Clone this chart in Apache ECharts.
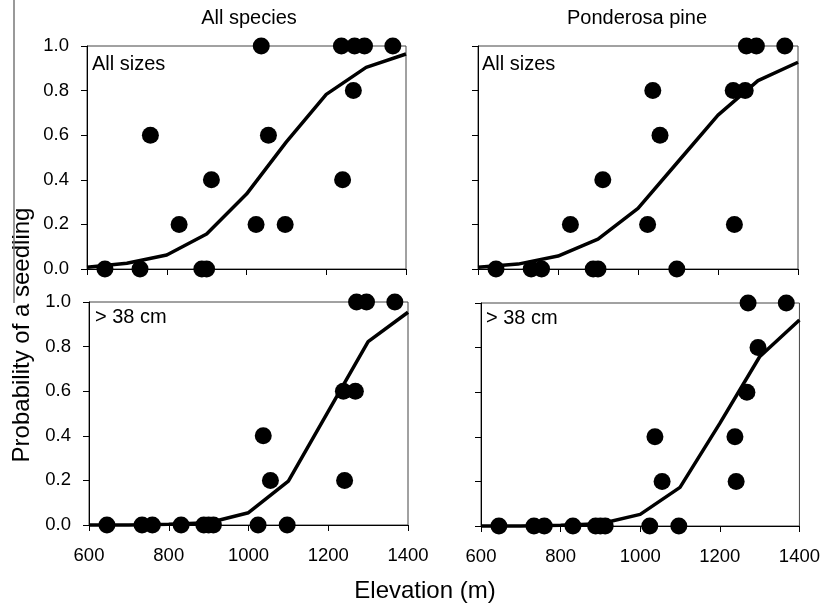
<!DOCTYPE html>
<html>
<head>
<meta charset="utf-8">
<script src="https://cdn.jsdelivr.net/npm/echarts@6/dist/echarts.min.js"></script>
<style>
html,body{margin:0;padding:0;background:#fff;}
#chart{width:823px;height:605px;}
</style>
</head>
<body>
<div id="chart"></div>
<script>
// ---- data ----
const siteElev = [645, 733, 759, 831, 888, 900, 912, 1024, 1037, 1055, 1097, 1238, 1241, 1268, 1271, 1296, 1367];
const obsAllSpeciesAll   = [0, 0, 0.6, 0.2, 0, 0, 0.4, 0.2, 1.0, 0.6, 0.2, 1.0, 0.4, 0.8, 1.0, 1.0, 1.0];
const obsPineAll         = [0, 0, 0, 0.2, 0, 0, 0.4, 0.2, 0.8, 0.6, 0, 0.8, 0.2, 0.8, 1.0, 1.0, 1.0];
const obsAllSpeciesLarge = [0, 0, 0, 0, 0, 0, 0, 0, 0.4, 0.2, 0, 0.6, 0.2, 0.6, 1.0, 1.0, 1.0];
const obsPineLarge       = [0, 0, 0, 0, 0, 0, 0, 0, 0.4, 0.2, 0, 0.4, 0.2, 0.6, 1.0, 0.8, 1.0];

const curveElev = [600, 700, 800, 900, 1000, 1100, 1200, 1300, 1400];
const fitAllSpeciesAll   = [0.008, 0.026, 0.063, 0.157, 0.336, 0.57, 0.783, 0.904, 0.964];
const fitPineAll         = [0.008, 0.022, 0.058, 0.134, 0.272, 0.481, 0.69, 0.845, 0.927];
const fitAllSpeciesLarge = [0.0, 0.0, 0.003, 0.01, 0.055, 0.197, 0.51, 0.822, 0.954];
const fitPineLarge       = [0.0, 0.0, 0.003, 0.01, 0.052, 0.173, 0.46, 0.759, 0.924];

const columnTitles = ['All species', 'Ponderosa pine'];
const panelLabels = ['All sizes', 'All sizes', '> 38 cm', '> 38 cm'];
const xTitle = 'Elevation (m)';
const yTitle = 'Probability of a seedling';

// ---- chart ----
const FONT = 'Arial, "Liberation Sans", sans-serif';
const zip = (xs, ys) => xs.map((x, i) => [x, ys[i]]);

const grids = [
  {left: 87, top: 46, width: 319, height: 223},
  {left: 478, top: 46, width: 320, height: 223},
  {left: 89, top: 302, width: 319, height: 223},
  {left: 481, top: 303, width: 320, height: 223}
].map(g => Object.assign(g, {show: true, borderColor: '#444', borderWidth: 1, backgroundColor: 'transparent'}));

const xAxes = grids.map((g, i) => ({
  type: 'value', gridIndex: i, min: 600, max: 1400, interval: 200,
  axisLine: {show: true, lineStyle: {color: '#000', width: 1}},
  axisTick: {show: true, inside: false, length: 6, lineStyle: {color: '#000'}},
  axisLabel: {show: i >= 2, fontSize: 18.5, fontFamily: FONT, color: '#000', margin: 21,
    formatter: v => String(v)},
  splitLine: {show: false}
}));
const yAxes = grids.map((g, i) => ({
  type: 'value', gridIndex: i, min: 0, max: 1, interval: 0.2,
  axisLine: {show: true, lineStyle: {color: '#000', width: 1}},
  axisTick: {show: true, inside: false, length: 6, lineStyle: {color: '#000'}},
  axisLabel: {show: i % 2 === 0, fontSize: 18.5, fontFamily: FONT, color: '#000', margin: 18,
    formatter: v => v.toFixed(1)},
  splitLine: {show: false}
}));

const obs = [obsAllSpeciesAll, obsPineAll, obsAllSpeciesLarge, obsPineLarge];
const fits = [fitAllSpeciesAll, fitPineAll, fitAllSpeciesLarge, fitPineLarge];
const series = [];
for (let i = 0; i < 4; i++) {
  series.push({
    type: 'line', xAxisIndex: i, yAxisIndex: i, data: zip(curveElev, fits[i]),
    showSymbol: false, symbol: 'none', lineStyle: {color: '#000', width: 3.5}, clip: false,
    animation: false, z: 3
  });
  series.push({
    type: 'scatter', xAxisIndex: i, yAxisIndex: i, data: zip(siteElev, obs[i]),
    symbol: 'circle', symbolSize: 17, itemStyle: {color: '#000', opacity: 1}, clip: false,
    animation: false, z: 4
  });
}

const txt = (text, x, y, size, align, extra) => Object.assign({
  type: 'text', x: x, y: y, z: 10,
  style: {text: text, fill: '#000', font: size + 'px ' + FONT,
    align: align, verticalAlign: 'middle', textAlign: align, textVerticalAlign: 'middle'}
}, extra || {});

const graphic = [
  txt(columnTitles[0], 249, 18, 20, 'center'),
  txt(columnTitles[1], 637, 18, 20, 'center'),
  txt(panelLabels[0], 92, 64, 20, 'left'),
  txt(panelLabels[1], 482, 64, 20, 'left'),
  txt(panelLabels[2], 95, 317, 20, 'left'),
  txt(panelLabels[3], 486, 318, 20, 'left'),
  txt(xTitle, 425, 591, 24, 'center'),
  txt(yTitle, 22, 335, 24, 'center', {rotation: Math.PI / 2}),
  {type: 'line', shape: {x1: 14, y1: 0, x2: 14, y2: 303}, style: {stroke: '#777', lineWidth: 1.5}, z: 10}
];

const chart = echarts.init(document.getElementById('chart'), null, {renderer: 'canvas'});
chart.setOption({
  animation: false,
  backgroundColor: '#fff',
  grid: grids, xAxis: xAxes, yAxis: yAxes, series: series, graphic: graphic
});
</script>
</body>
</html>
